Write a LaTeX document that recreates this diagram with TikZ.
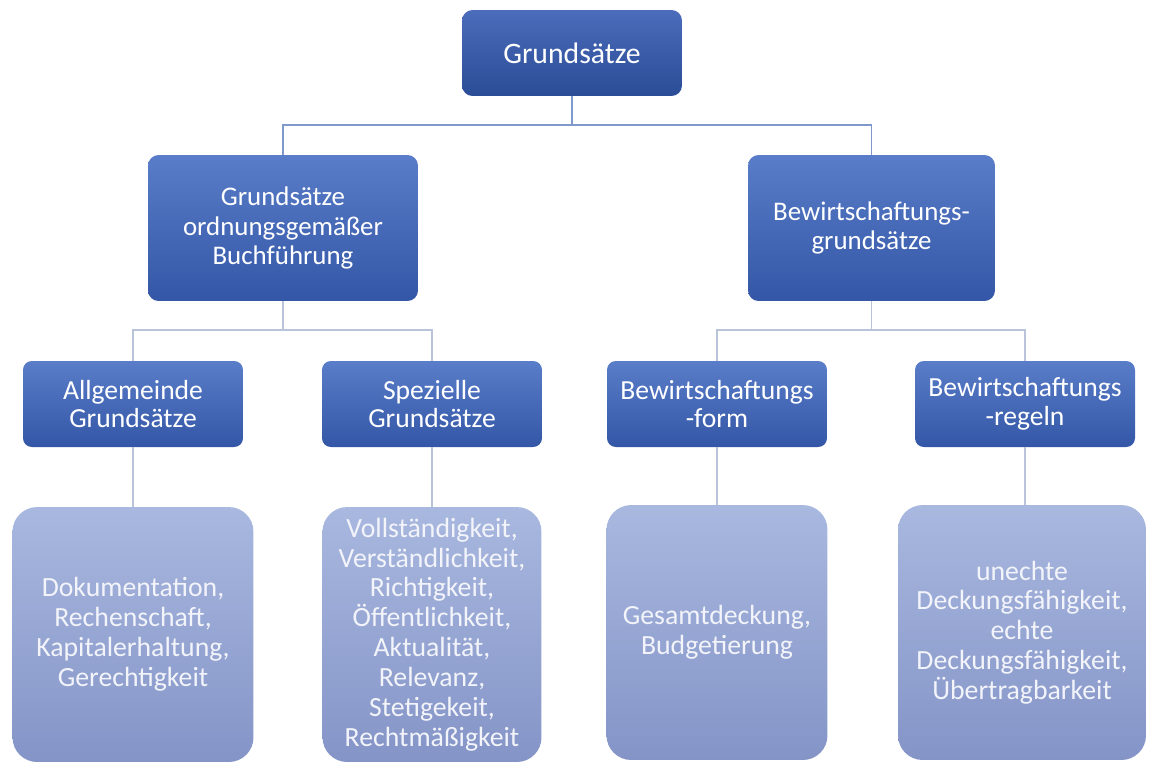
\documentclass[tikz,border=0pt]{standalone}
\usepackage{fontspec}
\setmainfont{Carlito}
\usetikzlibrary{calc}
\definecolor{roottop}{HTML}{4A6CBA}
\definecolor{rootbot}{HTML}{2B4D97}
\definecolor{midtop}{HTML}{5A7DC9}
\definecolor{midbot}{HTML}{3356A6}
\definecolor{leaftop}{HTML}{A9B8DF}
\definecolor{leafbot}{HTML}{8494C7}
\definecolor{linkblue}{HTML}{8099CC}
\definecolor{linkgray}{HTML}{B9C3DA}
\definecolor{leaftext}{HTML}{F2F4FA}

\begin{document}
\begin{tikzpicture}[
    x=0.02cm, y=-0.02cm,
    font=\fontsize{15.3}{16.8}\selectfont,
    % ── shared styles ──
    root box/.style={top color=roottop, bottom color=rootbot, rounded corners=6pt,
        text=white, align=center, inner sep=0pt,
        font=\fontsize{16.9}{18}\selectfont,
        minimum width=4.4cm, minimum height=1.72cm},
    mid box/.style={top color=midtop, bottom color=midbot, rounded corners=6pt,
        text=white, align=center, inner sep=0pt,
        minimum width=#1, minimum height=2.92cm},
    sub box/.style={top color=midtop, bottom color=midbot, rounded corners=5pt,
        text=white, align=center, inner sep=0pt,
        font=\fontsize{15.7}{16.4}\selectfont,
        minimum width=4.4cm, minimum height=1.72cm},
    leaf box/.style={top color=leaftop, bottom color=leafbot, rounded corners=14pt,
        text=leaftext, align=center, inner sep=0pt,
        font=\fontsize{15.8}{17}\selectfont,
        minimum width=#1, minimum height=5.1cm},
    top link/.style={draw=linkblue, line width=0.9pt},
    low link/.style={draw=linkgray, line width=0.9pt},
]
\useasboundingbox (0,0) rectangle (1151,765);

% ══════════════════════════════════════════════════════════════════════
%  ROOT + SECOND LEVEL
% ══════════════════════════════════════════════════════════════════════
\node[root box] (root) at (572,53) {Grundsätze};
\node[mid box=5.4cm] (gob) at (283,228)
    {Grundsätze\\ordnungsgemäßer\\Buchführung};
\node[mid box=4.94cm] (bew) at (871.5,228)
    {Bewirtschaftungs-\\grundsätze};

% ══════════════════════════════════════════════════════════════════════
%  THIRD LEVEL
% ══════════════════════════════════════════════════════════════════════
\node[sub box] (allg) at (133,404)  {Allgemeinde\\Grundsätze};
\node[sub box] (spez) at (432,404)  {Spezielle\\Grundsätze};
\node[sub box] (form) at (717,404)  {Bewirtschaftungs\\-form};
\node[sub box] (regl) at (1025,404) {Bewirtschaftungs\\-regeln};

% ══════════════════════════════════════════════════════════════════════
%  LEAVES
% ══════════════════════════════════════════════════════════════════════
\node[leaf box=4.82cm] (allgL) at (133,634.5)
    {Dokumentation,\\Rechenschaft,\\Kapitalerhaltung,\\Gerechtigkeit};
\node[leaf box=4.38cm] (spezL) at (432,634.5)
    {Vollständigkeit,\\Verständlichkeit,\\Richtigkeit,\\Öffentlichkeit,\\Aktualität,\\Relevanz,\\Stetigekeit,\\Rechtmäßigkeit};
\node[leaf box=4.42cm] (formL) at (717,632.5)
    {Gesamtdeckung,\\Budgetierung};
\node[leaf box=4.96cm] (reglL) at (1022,632.5)
    {unechte\\Deckungsfähigkeit,\\echte\\Deckungsfähigkeit,\\Übertragbarkeit};

% ══════════════════════════════════════════════════════════════════════
%  CONNECTORS
% ══════════════════════════════════════════════════════════════════════
\coordinate (barA) at (0,125);
\coordinate (barB) at (0,330);
\draw[top link] (root.south) -- (root.south |- barA) -| (gob.north);
\draw[top link] (root.south |- barA) -| (bew.north);
\draw[low link] (gob.south) -- (gob.south |- barB) -| (allg.north);
\draw[low link] (gob.south |- barB) -| (spez.north);
\draw[low link] (bew.south) -- (bew.south |- barB) -| (form.north);
\draw[low link] (bew.south |- barB) -| (regl.north);
\draw[low link] (allg.south) -- (allg.south |- allgL.north);
\draw[low link] (spez.south) -- (spez.south |- spezL.north);
\draw[low link] (form.south) -- (form.south |- formL.north);
\draw[low link] (regl.south) -- (regl.south |- reglL.north);

\end{tikzpicture}
\end{document}
